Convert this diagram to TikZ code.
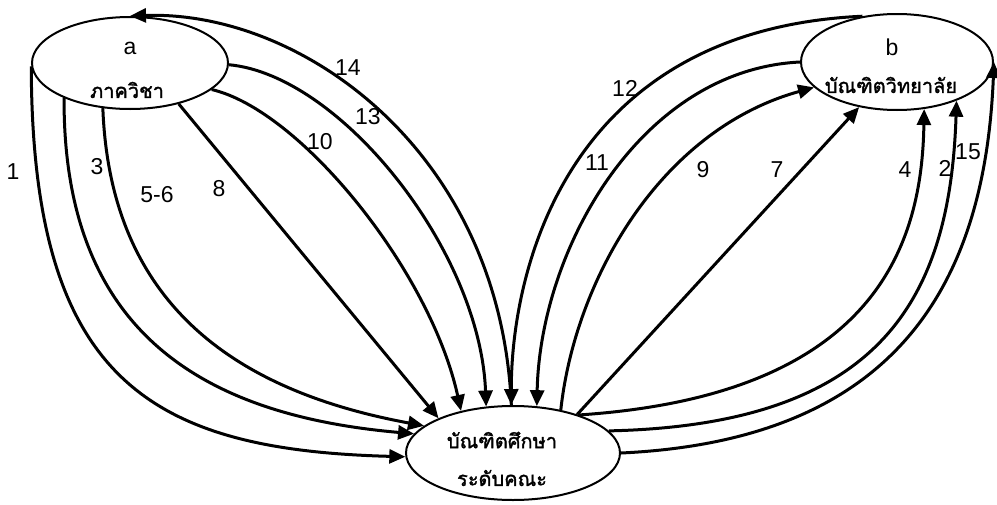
\documentclass[tikz,border=0pt]{standalone}
\usepackage{fontspec}
\setmainfont{Liberation Sans}
\newfontfamily\thaifont[Script=Thai,FakeBold=1.6]{Loma}
\usetikzlibrary{arrows.meta,shapes.geometric}
\begin{document}
\begin{tikzpicture}[x=0.5pt,y=-0.5pt,
  oval/.style={draw, ellipse, line width=1pt, inner sep=0pt},
  flow/.style={line width=1.5pt},
  tip/.style={-{Triangle[length=8pt,width=7pt]}},
  num/.style={font=\fontsize{11.5}{13}\selectfont, inner sep=0pt},
  thai/.style={font=\thaifont\fontsize{10}{12}\selectfont, inner sep=0pt}]
\useasboundingbox (0,0) rectangle (997,504);
% ellipses
\node[oval, minimum width=98pt, minimum height=46pt] (a) at (130,63) {};
\node[oval, minimum width=96pt, minimum height=48pt] (b) at (897,62) {};
\node[oval, minimum width=107pt, minimum height=47pt] (c) at (513,453) {};
% texts in ellipses
\node[num] (ta) at (130,48) {a};
\node[thai] (tath) at (127,90) {ภาควิชา};
\node[num] (tb) at (892,47) {b};
\node[thai] (tbth) at (891,85) {บัณฑิตวิทยาลัย};
\node[thai] (tc1) at (502,440) {บัณฑิตศึกษา};
\node[thai] (tc2) at (502,478) {ระดับคณะ};
% connectors a -> c
\draw[flow,tip] (a.182) .. controls (32,380) and (150,450) .. (c.182);
\draw[flow,tip] (a.208) .. controls (63,330) and (200,415) .. (c.169);
\draw[flow,tip] (a.239) .. controls (110,300) and (230,390) .. (c.163);
\draw[flow,tip] (a.320) -- (c.155);
\draw[flow,tip] (a.342) .. controls (300,110) and (430,270) .. (c.141);
\draw[flow,tip] (a.359) .. controls (340,75) and (480,250) .. (c.120);
% c -> a
\draw[flow,tip] (c.92) .. controls (500,150) and (300,10) .. (a.90);
% b -> c
\draw[flow,tip] (b.127) .. controls (560,30) and (511,280) .. (c.92);
\draw[flow,tip] (b.180) .. controls (640,70) and (540,250) .. (c.63);
% c -> b
\draw[flow,tip] (c.42) .. controls (575,280) and (660,130) .. (b.197);
\draw[flow,tip] (c.31) -- (b.230);
\draw[flow,tip] (c.30) .. controls (880,395) and (922,240) .. (b.300);
\draw[flow,tip] (c.13) .. controls (880,425) and (950,300) .. (b.327);
\draw[flow,tip] (c.0) .. controls (900,440) and (985,280) .. (b.0);
% labels
\node[num] (l1) at (13,172) {1};
\node[num] (l3) at (97,167) {3};
\node[num] (l56) at (157,195) {5-6};
\node[num] (l8) at (219,189) {8};
\node[num] (l10) at (320,142) {10};
\node[num] (l13) at (368,117) {13};
\node[num] (l14) at (348,68) {14};
\node[num] (l12) at (625,88) {12};
\node[num] (l11) at (597,163) {11};
\node[num] (l9) at (703,170) {9};
\node[num] (l7) at (777,170) {7};
\node[num] (l4) at (905,170) {4};
\node[num] (l2) at (945,168) {2};
\node[num] (l15) at (968,152) {15};
\end{tikzpicture}
\end{document}
